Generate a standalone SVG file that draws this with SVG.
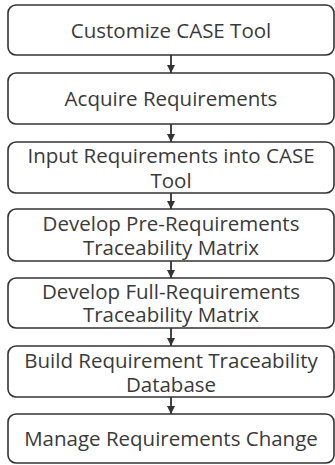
<svg xmlns="http://www.w3.org/2000/svg" width="335" height="465" viewBox="0 0 335 465">
<defs>
<style>
.box{fill:#fff;stroke:#333;stroke-width:1.6}
.t{font-family:"Open Sans","Noto Sans",sans-serif;font-size:20.5px;fill:#3a3a3a;text-anchor:middle}
.c{stroke:#333;stroke-width:1.8;fill:none}
</style>
<marker id="ah" viewBox="0 0 10 10" refX="10" refY="5" markerWidth="8" markerHeight="8" markerUnits="userSpaceOnUse" orient="auto"><path d="M0,0L10,5L0,10z" fill="#333"/></marker>
</defs>
<rect width="335" height="465" fill="#fff"/>
<g id="n1"><rect class="box" x="8" y="5" width="326" height="50" rx="8"/><text class="t" x="171" y="38">Customize CASE Tool</text></g>
<g id="n2"><rect class="box" x="8" y="73" width="326" height="51" rx="8"/><text class="t" x="171" y="106">Acquire Requirements</text></g>
<g id="n3"><rect class="box" x="8" y="142" width="326" height="51" rx="8"/><text class="t" x="171" y="163">Input Requirements into CASE</text><text class="t" x="171" y="188">Tool</text></g>
<g id="n4"><rect class="box" x="8" y="209" width="326" height="52" rx="8"/><text class="t" x="171" y="231">Develop Pre-Requirements</text><text class="t" x="171" y="255">Traceability Matrix</text></g>
<g id="n5"><rect class="box" x="8" y="278" width="326" height="50" rx="8"/><text class="t" x="171" y="299">Develop Full-Requirements</text><text class="t" x="171" y="322">Traceability Matrix</text></g>
<g id="n6"><rect class="box" x="8" y="346" width="326" height="51" rx="8"/><text class="t" x="171" y="368">Build Requirement Traceability</text><text class="t" x="171" y="392">Database</text></g>
<g id="n7"><rect class="box" x="8" y="414" width="326" height="49" rx="8"/><text class="t" x="171" y="446">Manage Requirements Change</text></g>
<g id="connectors">
<line class="c" x1="171" y1="55" x2="171" y2="73" marker-end="url(#ah)"/>
<line class="c" x1="171" y1="124" x2="171" y2="142" marker-end="url(#ah)"/>
<line class="c" x1="171" y1="193" x2="171" y2="209" marker-end="url(#ah)"/>
<line class="c" x1="171" y1="261" x2="171" y2="278" marker-end="url(#ah)"/>
<line class="c" x1="171" y1="328" x2="171" y2="346" marker-end="url(#ah)"/>
<line class="c" x1="171" y1="397" x2="171" y2="414" marker-end="url(#ah)"/>
</g>
</svg>
